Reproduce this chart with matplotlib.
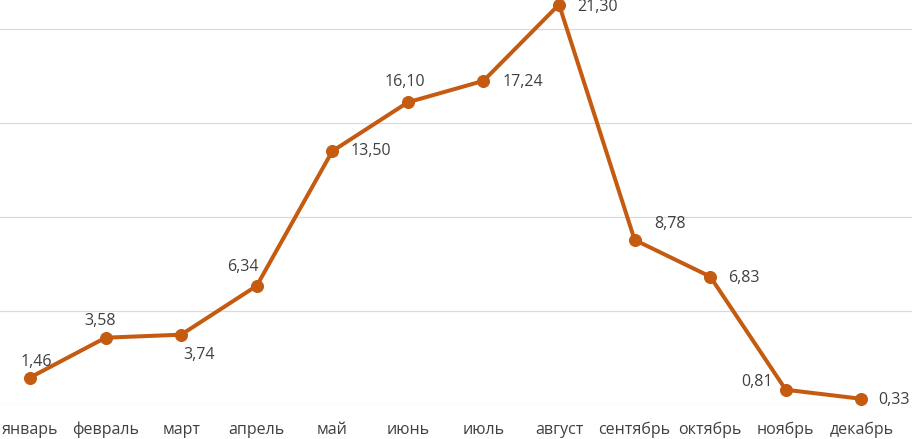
import matplotlib
matplotlib.use('Agg')
import matplotlib.pyplot as plt

plt.rcParams['font.family'] = ['Open Sans', 'DejaVu Sans']

months = ['январь', 'февраль', 'март', 'апрель', 'май', 'июнь', 'июль',
          'август', 'сентябрь', 'октябрь', 'ноябрь', 'декабрь']
values = [1.46, 3.58, 3.74, 6.34, 13.50, 16.10, 17.24, 21.30, 8.78, 6.83, 0.81, 0.33]

# label offsets in points (dpi=72 so points == pixels)
offsets = [(6, 16), (-6, 17), (18, -20), (-14, 19), (39, 0), (-3, 20),
           (39, -1), (39, -2), (35, 16), (34, -1), (-29, 8), (33, -1)]

color = '#C55A11'
text_color = '#404040'

fig = plt.figure(figsize=(912 / 72, 439 / 72), dpi=72)
ax = fig.add_axes([0, 34 / 439, 1, 405 / 439])

x = list(range(len(months)))
ax.plot(x, values, color=color, lw=4, marker='o', ms=12, clip_on=False, zorder=3)

for xi, v, (dx, dy) in zip(x, values, offsets):
    ax.annotate(f'{v:.2f}'.replace('.', ','), (xi, v), xytext=(dx, dy),
                textcoords='offset points', ha='center', va='center',
                fontsize=16, color=text_color)

ax.set_xlim(-0.397, 11.67)
ax.set_ylim(0, 21.54)
ax.set_yticks([0, 5, 10, 15, 20])
ax.yaxis.grid(True, color='#D9D9D9', lw=1.2)
ax.set_axisbelow(True)
ax.set_xticks(x)
ax.set_xticklabels(months)
ax.tick_params(axis='x', length=0, pad=17, labelsize=16, labelcolor=text_color)
ax.tick_params(axis='y', length=0, labelleft=False)
for s in ax.spines.values():
    s.set_visible(False)

fig.savefig('out.png', dpi=72)
